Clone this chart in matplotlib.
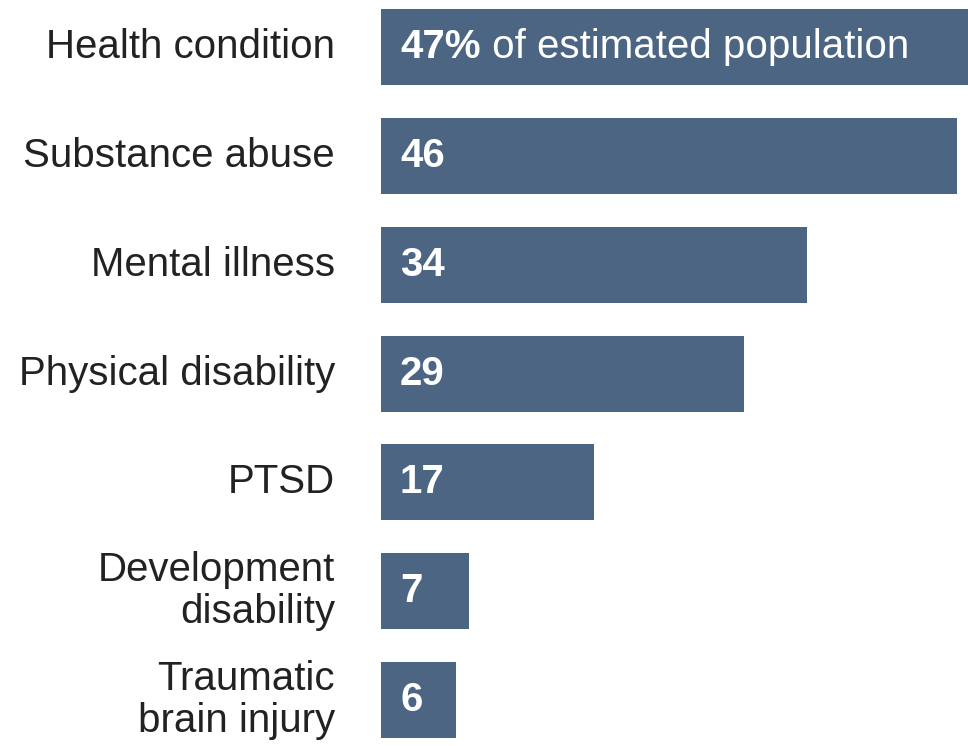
import matplotlib.pyplot as plt

categories = [
    "Health condition",
    "Substance abuse",
    "Mental illness",
    "Physical disability",
    "PTSD",
    "Development\ndisability",
    "Traumatic\nbrain injury",
]
values = [47, 46, 34, 29, 17, 7, 6]
value_labels = ["47%", "46", "34", "29", "17", "7", "6"]
first_suffix = " of estimated population"

BAR_COLOR = "#4c6583"
FONT = "Liberation Sans"
SIZE = 29

fig = plt.figure(figsize=(9.68, 7.46), dpi=100)
fig.patch.set_facecolor("white")
ax = fig.add_axes([381 / 968, -0.0113, 1 - 381 / 968, 1.021])

ypos = list(range(len(categories)))
ax.barh(ypos, values, height=0.7, color=BAR_COLOR)
ax.set_xlim(0, 46.9)
ax.set_ylim(len(categories) - 0.5, -0.5)
ax.axis("off")

for y, cat, lab in zip(ypos, categories, value_labels):
    ax.annotate(cat, xy=(0, y), xytext=(-46, 0), textcoords="offset pixels",
                ha="right", va="center", multialignment="right",
                fontsize=SIZE, family=FONT, color="#222222", linespacing=1.15)
    ax.annotate(lab, xy=(0, y), xytext=(19, 0), textcoords="offset pixels",
                ha="left", va="center", fontsize=SIZE, family=FONT,
                fontweight="bold", color="white")

# suffix on the first bar, placed after the bold number
fig.canvas.draw()
first = ax.texts[1]
bb = first.get_window_extent()
x_end = ax.transData.inverted().transform((bb.x1, bb.y0))[0]
ax.text(x_end, 0, first_suffix, ha="left", va="center", fontsize=SIZE,
        family=FONT, color="white")

fig.savefig("out.png", dpi=100)
